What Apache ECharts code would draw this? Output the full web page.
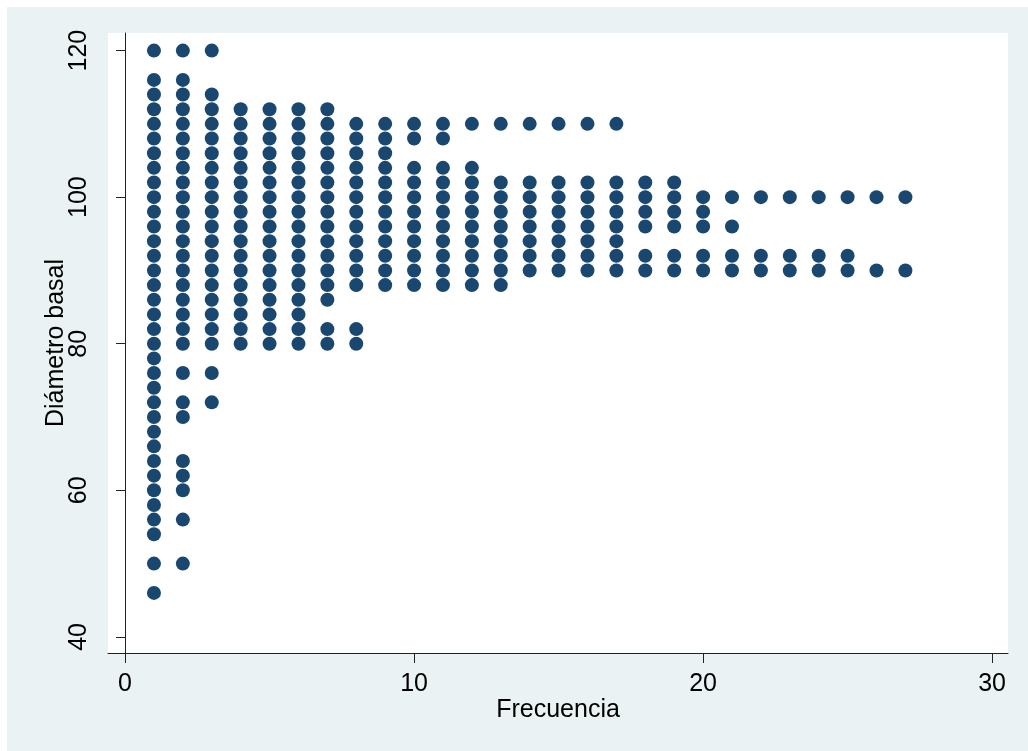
<!DOCTYPE html>
<html>
<head>
<meta charset="utf-8">
<style>
  html, body { margin: 0; padding: 0; background: #ffffff; }
  #chart { width: 1028px; height: 751px; }
</style>
<script src="https://cdn.jsdelivr.net/npm/echarts@6/dist/echarts.min.js"></script>
</head>
<body>
<div id="chart"></div>
<script>
// Basal diameter values and how many observations fall on each one
const diameters  = [120, 116, 114, 112, 110, 108, 106, 104, 102, 100, 98, 96, 94, 92, 90, 88, 86, 84, 82, 80, 78, 76, 74, 72, 70, 68, 66, 64, 62, 60, 58, 56, 54, 50, 46];
const frequencies = [3,   2,   3,   7,   17,  11,  9,   12,  19,  27,  20, 21, 17, 25, 27, 13, 7,  6,  8,  8,  1,  3,  1,  3,  2,  1,  1,  2,  2,  2,  1,  2,  1,  2,  1];

const xTicks = [0, 10, 20, 30];
const yTicks = [40, 60, 80, 100, 120];

// Dot plot: one marker per observation, stacked horizontally from 1 up to the count
const points = [];
diameters.forEach(function (d, k) {
  for (let i = 1; i <= frequencies[k]; i++) points.push([i, d]);
});

const FONT = 'Liberation Sans, Arial, Helvetica, sans-serif';
const chart = echarts.init(document.getElementById('chart'), null, { renderer: 'canvas' });

chart.setOption({
  backgroundColor: '#ffffff',
  animation: false,
  graphic: [{
    type: 'rect',
    z: -10,
    silent: true,
    shape: { x: 7, y: 7, width: 1021, height: 744 },
    style: { fill: '#eaf2f3' }
  }],
  grid: {
    left: 108, top: 33, right: 20, bottom: 98,
    show: true, backgroundColor: '#ffffff', borderWidth: 0
  },
  xAxis: {
    type: 'value',
    min: -0.59, max: 30.55,
    name: 'Frecuencia',
    nameLocation: 'middle',
    nameGap: 45,
    nameMoveOverlap: false,
    nameTextStyle: { fontFamily: FONT, fontSize: 25, color: '#000' },
    axisLine: { show: true, lineStyle: { color: '#222', width: 1 } },
    axisTick: { show: true, length: 10, customValues: xTicks, lineStyle: { color: '#222' } },
    axisLabel: { customValues: xTicks, margin: 19, fontFamily: FONT, fontSize: 25, color: '#000' },
    splitLine: { show: false }
  },
  yAxis: {
    type: 'value',
    min: 37.8, max: 122.4,
    name: 'Diámetro basal',
    nameLocation: 'middle',
    nameGap: 39,
    nameMoveOverlap: false,
    nameRotate: 90,
    nameTextStyle: { fontFamily: FONT, fontSize: 25, color: '#000' },
    axisLine: { show: true, lineStyle: { color: '#222', width: 1 } },
    axisTick: { show: true, length: 9, customValues: yTicks, lineStyle: { color: '#222' } },
    axisLabel: { customValues: yTicks, rotate: 90, margin: 16, fontFamily: FONT, fontSize: 25, color: '#000' },
    splitLine: { show: false }
  },
  series: [{
    type: 'scatter',
    data: points,
    symbol: 'circle',
    symbolSize: 14,
    itemStyle: { color: '#1a476f', opacity: 1 }
  }]
});
</script>
</body>
</html>
